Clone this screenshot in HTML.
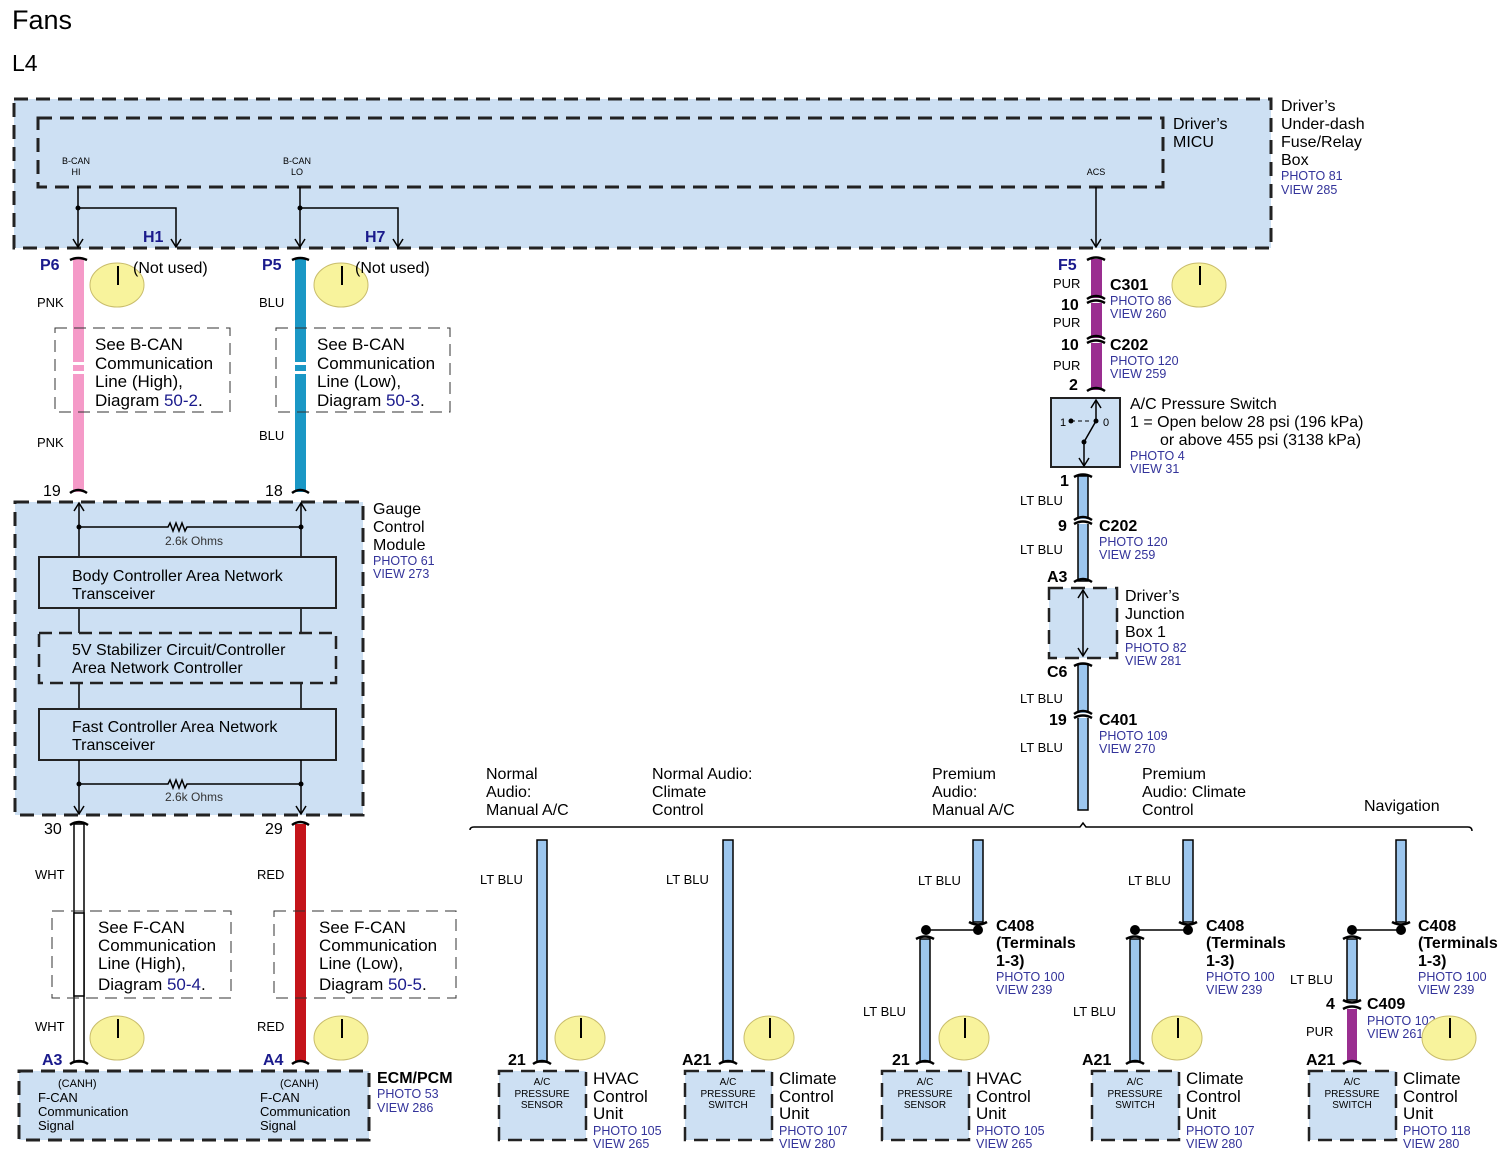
<!DOCTYPE html>
<html><head><meta charset="utf-8"><style>
html,body{margin:0;padding:0;background:#fff;}
svg{display:block;font-family:"Liberation Sans",Arial,sans-serif;}
.t{font-size:17px;fill:#000}
.s{font-size:13px;fill:#000}
.xs{font-size:10px;fill:#000}
.p{font-size:12.5px;fill:#33339a}
.b{font-size:16px;font-weight:bold;fill:#1a1a8c}
.n{font-size:16px;fill:#000}
.box{fill:#cde0f3;stroke:#222;stroke-width:3;stroke-dasharray:14 8}
.nb{fill:none;stroke:#333;stroke-width:1;stroke-dasharray:12 7}
.ln{stroke:#000;stroke-width:1.5;fill:none}
.cap{stroke:#000;stroke-width:2.5;fill:none}
.yc{fill:#f8f39c;stroke:#c9bd6c;stroke-width:1}
.lb{fill:#9cc6ee;stroke:#000;stroke-width:1.5}
</style></head><body>
<svg width="1511" height="1159" viewBox="0 0 1511 1159" xmlns="http://www.w3.org/2000/svg">
<defs>
<marker id="ar" markerWidth="12" markerHeight="12" refX="10" refY="6" orient="auto-start-reverse" markerUnits="userSpaceOnUse"><path d="M2,1 L10,6 L2,11" fill="none" stroke="#000" stroke-width="1.5"/></marker>
</defs>
<text x="12" y="29" style="font-size:27px">Fans</text>
<text x="12" y="71" style="font-size:23px">L4</text>

<!-- top fuse box -->
<rect x="14" y="99" width="1257" height="149" class="box"/>
<rect x="38" y="118" width="1125" height="69" fill="none" stroke="#222" stroke-width="3" stroke-dasharray="14 8"/>
<text x="76" y="164" class="xs" text-anchor="middle" style="font-size:9px">B-CAN</text><text x="76" y="175" class="xs" text-anchor="middle" style="font-size:9px">HI</text>
<text x="297" y="164" class="xs" text-anchor="middle" style="font-size:9px">B-CAN</text><text x="297" y="175" class="xs" text-anchor="middle" style="font-size:9px">LO</text>
<text x="1096" y="175" class="xs" text-anchor="middle" style="font-size:9px">ACS</text>
<path d="M78,187 V247" class="ln" marker-end="url(#ar)"/>
<path d="M78,208 H176 V247" class="ln" marker-end="url(#ar)"/><circle cx="78" cy="208" r="2.5"/>
<path d="M300,187 V247" class="ln" marker-end="url(#ar)"/>
<path d="M300,208 H398 V247" class="ln" marker-end="url(#ar)"/><circle cx="300" cy="208" r="2.5"/>
<path d="M1096,187 V247" class="ln" marker-end="url(#ar)"/>
<text x="143" y="242" class="b">H1</text><text x="365" y="242" class="b">H7</text>
<text x="1173" y="129" class="n">Driver’s</text><text x="1173" y="147" class="n">MICU</text>
<text x="1281" y="111" class="n">Driver’s</text><text x="1281" y="129" class="n">Under-dash</text><text x="1281" y="147" class="n">Fuse/Relay</text><text x="1281" y="165" class="n">Box</text>
<text x="1281" y="180" class="p">PHOTO 81</text><text x="1281" y="194" class="p">VIEW 285</text>

<!-- pink & blue wires -->
<rect x="73" y="259" width="11" height="233" fill="#f59ac8"/>
<rect x="295" y="259" width="11" height="233" fill="#1a97c5"/>
<path d="M70,260 Q78,256 87,260" class="cap"/><path d="M70,493 Q78,487 87,493" class="cap"/>
<path d="M292,260 Q300,256 309,260" class="cap"/><path d="M292,493 Q300,487 309,493" class="cap"/>
<text x="40" y="270" class="b">P6</text><text x="262" y="270" class="b">P5</text>
<ellipse cx="117" cy="285" rx="27" ry="22" class="yc"/><path d="M118,266 V285" stroke="#000" stroke-width="2"/>
<ellipse cx="341" cy="285" rx="27" ry="22" class="yc"/><path d="M342,266 V285" stroke="#000" stroke-width="2"/>
<text x="133" y="273" class="n">(Not used)</text><text x="355" y="273" class="n">(Not used)</text>
<text x="37" y="307" class="s">PNK</text><text x="37" y="447" class="s">PNK</text>
<text x="259" y="307" class="s">BLU</text><text x="259" y="440" class="s">BLU</text>
<rect x="55" y="328" width="175" height="84" class="nb"/><rect x="276" y="328" width="174" height="84" class="nb"/>
<rect x="73" y="330" width="11" height="80" fill="#f59ac8"/><rect x="73" y="362" width="11" height="3" fill="#fff"/><rect x="73" y="371" width="11" height="3" fill="#fff"/>
<rect x="295" y="330" width="11" height="80" fill="#1a97c5"/><rect x="295" y="362" width="11" height="3" fill="#fff"/><rect x="295" y="371" width="11" height="3" fill="#fff"/>
<text x="95" y="350" class="t">See B-CAN</text><text x="95" y="369" class="t">Communication</text><text x="95" y="387" class="t">Line (High),</text><text x="95" y="406" class="t">Diagram <tspan fill="#1a1a8c">50-2</tspan>.</text>
<text x="317" y="350" class="t">See B-CAN</text><text x="317" y="369" class="t">Communication</text><text x="317" y="387" class="t">Line (Low),</text><text x="317" y="406" class="t">Diagram <tspan fill="#1a1a8c">50-3</tspan>.</text>
<text x="43" y="496" class="n">19</text><text x="265" y="496" class="n">18</text>

<!-- gauge module -->
<rect x="15" y="502" width="348" height="313" class="box"/>
<path d="M79,557 V503" class="ln" marker-end="url(#ar)"/><path d="M301,557 V503" class="ln" marker-end="url(#ar)"/>
<path d="M79,527 H168 l2,-4 l3,8 l3,-8 l3,8 l3,-8 l3,8 l2,-4 H301" class="ln"/><circle cx="79" cy="527" r="2.5"/><circle cx="301" cy="527" r="2.5"/>
<text x="194" y="545" class="s" text-anchor="middle" style="font-size:12px;fill:#333">2.6k Ohms</text>
<path d="M79,608 V633 M301,608 V633 M79,683 V709 M301,683 V709" class="ln"/>
<rect x="39" y="557" width="297" height="51" fill="#cde0f3" stroke="#222" stroke-width="2"/>
<rect x="39" y="633" width="297" height="50" fill="#cde0f3" stroke="#222" stroke-width="2.5" stroke-dasharray="13 7"/>
<rect x="39" y="709" width="297" height="51" fill="#cde0f3" stroke="#222" stroke-width="2"/>
<text x="72" y="581" class="n">Body Controller Area Network</text><text x="72" y="599" class="n">Transceiver</text>
<text x="72" y="655" class="n">5V Stabilizer Circuit/Controller</text><text x="72" y="673" class="n">Area Network Controller</text>
<text x="72" y="732" class="n">Fast Controller Area Network</text><text x="72" y="750" class="n">Transceiver</text>
<path d="M79,760 V814" class="ln" marker-end="url(#ar)"/><path d="M301,760 V814" class="ln" marker-end="url(#ar)"/>
<path d="M79,784 H168 l2,-4 l3,8 l3,-8 l3,8 l3,-8 l3,8 l2,-4 H301" class="ln"/><circle cx="79" cy="784" r="2.5"/><circle cx="301" cy="784" r="2.5"/>
<text x="194" y="801" class="s" text-anchor="middle" style="font-size:12px;fill:#333">2.6k Ohms</text>
<text x="373" y="514" class="n">Gauge</text><text x="373" y="532" class="n">Control</text><text x="373" y="550" class="n">Module</text>
<text x="373" y="565" class="p">PHOTO 61</text><text x="373" y="578" class="p">VIEW 273</text>

<!-- white & red wires -->
<text x="44" y="834" class="n">30</text><text x="265" y="834" class="n">29</text>
<rect x="74" y="824" width="10" height="238" fill="#fff" stroke="#000" stroke-width="1.5"/>
<rect x="295" y="824" width="11" height="238" fill="#c4141a"/>
<path d="M70,825 Q79,819 88,825" class="cap"/><path d="M292,825 Q300,819 309,825" class="cap"/>
<path d="M70,1064 Q79,1058 88,1064" class="cap"/><path d="M292,1064 Q300,1058 309,1064" class="cap"/>
<text x="35" y="879" class="s">WHT</text><text x="257" y="879" class="s">RED</text>
<rect x="52" y="911" width="179" height="87" class="nb"/><rect x="274" y="911" width="182" height="87" class="nb"/>
<rect x="74" y="913" width="10" height="83" fill="#fff" stroke="#000" stroke-width="1.5"/>
<rect x="295" y="913" width="11" height="83" fill="#c4141a"/>
<text x="98" y="933" class="t">See F-CAN</text><text x="98" y="951" class="t">Communication</text><text x="98" y="969" class="t">Line (High),</text><text x="98" y="990" class="t">Diagram <tspan fill="#1a1a8c">50-4</tspan>.</text>
<text x="319" y="933" class="t">See F-CAN</text><text x="319" y="951" class="t">Communication</text><text x="319" y="969" class="t">Line (Low),</text><text x="319" y="990" class="t">Diagram <tspan fill="#1a1a8c">50-5</tspan>.</text>
<text x="35" y="1031" class="s">WHT</text><text x="257" y="1031" class="s">RED</text>
<ellipse cx="117" cy="1038" rx="27" ry="22" class="yc"/><path d="M118,1019 V1038" stroke="#000" stroke-width="2"/>
<ellipse cx="341" cy="1038" rx="27" ry="22" class="yc"/><path d="M342,1019 V1038" stroke="#000" stroke-width="2"/>
<text x="42" y="1065" class="b">A3</text><text x="263" y="1065" class="b">A4</text>
<rect x="19" y="1071" width="350" height="69" class="box"/>
<text x="58" y="1087" class="xs" style="font-size:11px">(CANH)</text><text x="38" y="1102" class="s">F-CAN</text><text x="38" y="1116" class="s">Communication</text><text x="38" y="1130" class="s">Signal</text>
<text x="280" y="1087" class="xs" style="font-size:11px">(CANH)</text><text x="260" y="1102" class="s">F-CAN</text><text x="260" y="1116" class="s">Communication</text><text x="260" y="1130" class="s">Signal</text>
<text x="377" y="1083" class="n" style="font-weight:bold">ECM/PCM</text><text x="377" y="1098" class="p">PHOTO 53</text><text x="377" y="1112" class="p">VIEW 286</text>

<!-- right column -->
<rect x="1091" y="259" width="11" height="131" fill="#9a2e90"/>
<rect x="1089" y="298" width="15" height="5" fill="#fff"/><rect x="1089" y="338" width="15" height="5" fill="#fff"/>
<path d="M1087,260 Q1096,255 1105,260" class="cap"/>
<path d="M1087,299 Q1096,293 1105,299 M1087,303 Q1096,298 1105,303" class="cap"/>
<path d="M1087,339 Q1096,333 1105,339 M1087,343 Q1096,338 1105,343" class="cap"/>
<path d="M1087,391 Q1096,385 1105,391" class="cap"/>
<text x="1058" y="270" class="b">F5</text>
<text x="1053" y="288" class="s">PUR</text><text x="1053" y="327" class="s">PUR</text><text x="1053" y="370" class="s">PUR</text>
<text x="1061" y="310" class="n" style="font-weight:bold">10</text><text x="1061" y="350" class="n" style="font-weight:bold">10</text><text x="1069" y="390" class="n" style="font-weight:bold">2</text>
<text x="1110" y="290" class="n" style="font-weight:bold">C301</text><text x="1110" y="305" class="p">PHOTO 86</text><text x="1110" y="318" class="p">VIEW 260</text>
<text x="1110" y="350" class="n" style="font-weight:bold">C202</text><text x="1110" y="365" class="p">PHOTO 120</text><text x="1110" y="378" class="p">VIEW 259</text>
<ellipse cx="1199" cy="285" rx="27" ry="22" class="yc"/><path d="M1200,266 V285" stroke="#000" stroke-width="2"/>
<rect x="1051" y="398" width="69" height="69" fill="#cde0f3" stroke="#222" stroke-width="2"/>
<path d="M1096,421 V400" class="ln" marker-end="url(#ar)"/><path d="M1084,442 V466" class="ln" marker-end="url(#ar)"/>
<path d="M1084,442 L1096,421" class="ln"/><path d="M1071,421 H1090" stroke="#000" stroke-width="1" stroke-dasharray="4 3"/>
<circle cx="1071" cy="421" r="2.5"/><circle cx="1096" cy="421" r="2.5"/><circle cx="1084" cy="442" r="2.5"/>
<text x="1060" y="426" class="s" style="font-size:11px">1</text><text x="1103" y="426" class="s" style="font-size:11px">0</text>
<text x="1130" y="409" class="n">A/C Pressure Switch</text><text x="1130" y="427" class="n">1 = Open below 28 psi (196 kPa)</text><text x="1160" y="445" class="n">or above 455 psi (3138 kPa)</text>
<text x="1130" y="460" class="p">PHOTO 4</text><text x="1130" y="473" class="p">VIEW 31</text>

<rect x="1078" y="476" width="10" height="105" class="lb"/>
<rect x="1078" y="664" width="10" height="146" class="lb"/>
<rect x="1075" y="519" width="16" height="5" fill="#fff"/><rect x="1075" y="713" width="16" height="5" fill="#fff"/>
<path d="M1074,477 Q1083,472 1092,477 M1074,520 Q1083,514 1092,520 M1074,524 Q1083,519 1092,524 M1074,582 Q1083,576 1092,582 M1074,666 Q1083,661 1092,666 M1074,714 Q1083,708 1092,714 M1074,718 Q1083,713 1092,718" class="cap"/>
<text x="1060" y="486" class="n" style="font-weight:bold">1</text><text x="1058" y="531" class="n" style="font-weight:bold">9</text>
<text x="1047" y="582" class="n" style="font-weight:bold">A3</text><text x="1047" y="677" class="n" style="font-weight:bold">C6</text><text x="1049" y="725" class="n" style="font-weight:bold">19</text>
<text x="1020" y="505" class="s">LT BLU</text><text x="1020" y="554" class="s">LT BLU</text><text x="1020" y="703" class="s">LT BLU</text><text x="1020" y="752" class="s">LT BLU</text>
<text x="1099" y="531" class="n" style="font-weight:bold">C202</text><text x="1099" y="546" class="p">PHOTO 120</text><text x="1099" y="559" class="p">VIEW 259</text>
<text x="1099" y="725" class="n" style="font-weight:bold">C401</text><text x="1099" y="740" class="p">PHOTO 109</text><text x="1099" y="753" class="p">VIEW 270</text>
<rect x="1049" y="588" width="68" height="70" class="box" style="stroke-width:2.5"/>
<path d="M1083,590 V656" class="ln" marker-start="url(#ar)" marker-end="url(#ar)"/>
<text x="1125" y="601" class="n">Driver’s</text><text x="1125" y="619" class="n">Junction</text><text x="1125" y="637" class="n">Box 1</text>
<text x="1125" y="652" class="p">PHOTO 82</text><text x="1125" y="665" class="p">VIEW 281</text>

<!-- variants header -->
<path d="M470,830 Q470,827 474,827 H1080 L1083,823 L1086,827 H1468 Q1472,827 1472,831" stroke="#000" stroke-width="1.5" fill="none"/>
<text x="486" y="779" class="n">Normal</text><text x="486" y="797" class="n">Audio:</text><text x="486" y="815" class="n">Manual A/C</text>
<text x="652" y="779" class="n">Normal Audio:</text><text x="652" y="797" class="n">Climate</text><text x="652" y="815" class="n">Control</text>
<text x="932" y="779" class="n">Premium</text><text x="932" y="797" class="n">Audio:</text><text x="932" y="815" class="n">Manual A/C</text>
<text x="1142" y="779" class="n">Premium</text><text x="1142" y="797" class="n">Audio: Climate</text><text x="1142" y="815" class="n">Control</text>
<text x="1364" y="811" class="n">Navigation</text>

<!-- col1 -->
<rect x="537" y="840" width="10" height="222" class="lb"/><path d="M533,1064 Q542,1058 551,1064" class="cap"/>
<text x="480" y="884" class="s">LT BLU</text><text x="508" y="1065" class="n" style="font-weight:bold">21</text>
<ellipse cx="580" cy="1038" rx="25" ry="22" class="yc"/><path d="M581,1018 V1038" stroke="#000" stroke-width="2"/>
<rect x="499" y="1071" width="87" height="69" class="box" style="stroke-width:2.5"/>
<text x="542" y="1085" class="xs" text-anchor="middle">A/C</text><text x="542" y="1097" class="xs" text-anchor="middle">PRESSURE</text><text x="542" y="1108" class="xs" text-anchor="middle">SENSOR</text>
<text x="593" y="1084" class="n" style="font-size:17px">HVAC</text><text x="593" y="1102" class="n" style="font-size:17px">Control</text><text x="593" y="1119" class="n" style="font-size:17px">Unit</text>
<text x="593" y="1135" class="p">PHOTO 105</text><text x="593" y="1148" class="p">VIEW 265</text>
<!-- col2 -->
<rect x="723" y="840" width="10" height="222" class="lb"/><path d="M719,1064 Q728,1058 737,1064" class="cap"/>
<text x="666" y="884" class="s">LT BLU</text><text x="682" y="1065" class="n" style="font-weight:bold">A21</text>
<ellipse cx="769" cy="1038" rx="25" ry="22" class="yc"/><path d="M770,1018 V1038" stroke="#000" stroke-width="2"/>
<rect x="685" y="1071" width="87" height="69" class="box" style="stroke-width:2.5"/>
<text x="728" y="1085" class="xs" text-anchor="middle">A/C</text><text x="728" y="1097" class="xs" text-anchor="middle">PRESSURE</text><text x="728" y="1108" class="xs" text-anchor="middle">SWITCH</text>
<text x="779" y="1084" class="n" style="font-size:17px">Climate</text><text x="779" y="1102" class="n" style="font-size:17px">Control</text><text x="779" y="1119" class="n" style="font-size:17px">Unit</text>
<text x="779" y="1135" class="p">PHOTO 107</text><text x="779" y="1148" class="p">VIEW 280</text>
<!-- col3 -->
<rect x="973" y="840" width="10" height="82" class="lb"/><path d="M969,922 Q978,927 987,922" class="cap"/>
<circle cx="978" cy="930" r="5"/><circle cx="926" cy="930" r="5"/><path d="M926,930 H978" class="ln"/>
<rect x="920" y="939" width="10" height="123" class="lb"/><path d="M916,939 Q925,934 934,939 M916,1064 Q925,1058 934,1064" class="cap"/>
<text x="918" y="885" class="s">LT BLU</text><text x="863" y="1016" class="s">LT BLU</text>
<text x="996" y="931" class="n" style="font-weight:bold">C408</text><text x="996" y="948" class="n" style="font-weight:bold">(Terminals</text><text x="996" y="966" class="n" style="font-weight:bold">1-3)</text>
<text x="996" y="981" class="p">PHOTO 100</text><text x="996" y="994" class="p">VIEW 239</text>
<text x="892" y="1065" class="n" style="font-weight:bold">21</text>
<ellipse cx="964" cy="1038" rx="25" ry="22" class="yc"/><path d="M965,1018 V1038" stroke="#000" stroke-width="2"/>
<rect x="882" y="1071" width="87" height="69" class="box" style="stroke-width:2.5"/>
<text x="925" y="1085" class="xs" text-anchor="middle">A/C</text><text x="925" y="1097" class="xs" text-anchor="middle">PRESSURE</text><text x="925" y="1108" class="xs" text-anchor="middle">SENSOR</text>
<text x="976" y="1084" class="n" style="font-size:17px">HVAC</text><text x="976" y="1102" class="n" style="font-size:17px">Control</text><text x="976" y="1119" class="n" style="font-size:17px">Unit</text>
<text x="976" y="1135" class="p">PHOTO 105</text><text x="976" y="1148" class="p">VIEW 265</text>
<!-- col4 -->
<rect x="1183" y="840" width="10" height="82" class="lb"/><path d="M1179,922 Q1188,927 1197,922" class="cap"/>
<circle cx="1188" cy="930" r="5"/><circle cx="1135" cy="930" r="5"/><path d="M1135,930 H1188" class="ln"/>
<rect x="1130" y="939" width="10" height="123" class="lb"/><path d="M1126,939 Q1135,934 1144,939 M1126,1064 Q1135,1058 1144,1064" class="cap"/>
<text x="1128" y="885" class="s">LT BLU</text><text x="1073" y="1016" class="s">LT BLU</text>
<text x="1206" y="931" class="n" style="font-weight:bold">C408</text><text x="1206" y="948" class="n" style="font-weight:bold">(Terminals</text><text x="1206" y="966" class="n" style="font-weight:bold">1-3)</text>
<text x="1206" y="981" class="p">PHOTO 100</text><text x="1206" y="994" class="p">VIEW 239</text>
<text x="1082" y="1065" class="n" style="font-weight:bold">A21</text>
<ellipse cx="1177" cy="1038" rx="25" ry="22" class="yc"/><path d="M1178,1018 V1038" stroke="#000" stroke-width="2"/>
<rect x="1092" y="1071" width="87" height="69" class="box" style="stroke-width:2.5"/>
<text x="1135" y="1085" class="xs" text-anchor="middle">A/C</text><text x="1135" y="1097" class="xs" text-anchor="middle">PRESSURE</text><text x="1135" y="1108" class="xs" text-anchor="middle">SWITCH</text>
<text x="1186" y="1084" class="n" style="font-size:17px">Climate</text><text x="1186" y="1102" class="n" style="font-size:17px">Control</text><text x="1186" y="1119" class="n" style="font-size:17px">Unit</text>
<text x="1186" y="1135" class="p">PHOTO 107</text><text x="1186" y="1148" class="p">VIEW 280</text>
<!-- col5 -->
<rect x="1396" y="840" width="10" height="82" class="lb"/><path d="M1392,922 Q1401,927 1410,922" class="cap"/>
<circle cx="1401" cy="930" r="5"/><circle cx="1352" cy="930" r="5"/><path d="M1352,930 H1401" class="ln"/>
<rect x="1347" y="939" width="10" height="61" class="lb"/>
<rect x="1347" y="1009" width="10" height="53" fill="#9a2e90"/>
<path d="M1343,939 Q1352,934 1361,939 M1343,1000 Q1352,1005 1361,1000 M1343,1009 Q1352,1004 1361,1009 M1343,1064 Q1352,1058 1361,1064" class="cap"/>
<text x="1290" y="984" class="s">LT BLU</text><text x="1306" y="1036" class="s">PUR</text>
<text x="1326" y="1009" class="n" style="font-weight:bold">4</text>
<text x="1367" y="1009" class="n" style="font-weight:bold">C409</text><text x="1367" y="1025" class="p">PHOTO 102</text><text x="1367" y="1038" class="p">VIEW 261</text>
<text x="1418" y="931" class="n" style="font-weight:bold">C408</text><text x="1418" y="948" class="n" style="font-weight:bold">(Terminals</text><text x="1418" y="966" class="n" style="font-weight:bold">1-3)</text>
<text x="1418" y="981" class="p">PHOTO 100</text><text x="1418" y="994" class="p">VIEW 239</text>
<ellipse cx="1449" cy="1038" rx="27" ry="22" class="yc"/><path d="M1450,1018 V1038" stroke="#000" stroke-width="2"/>
<text x="1306" y="1065" class="n" style="font-weight:bold">A21</text>
<rect x="1309" y="1071" width="87" height="69" class="box" style="stroke-width:2.5"/>
<text x="1352" y="1085" class="xs" text-anchor="middle">A/C</text><text x="1352" y="1097" class="xs" text-anchor="middle">PRESSURE</text><text x="1352" y="1108" class="xs" text-anchor="middle">SWITCH</text>
<text x="1403" y="1084" class="n" style="font-size:17px">Climate</text><text x="1403" y="1102" class="n" style="font-size:17px">Control</text><text x="1403" y="1119" class="n" style="font-size:17px">Unit</text>
<text x="1403" y="1135" class="p">PHOTO 118</text><text x="1403" y="1148" class="p">VIEW 280</text>
</svg>
</body></html>
